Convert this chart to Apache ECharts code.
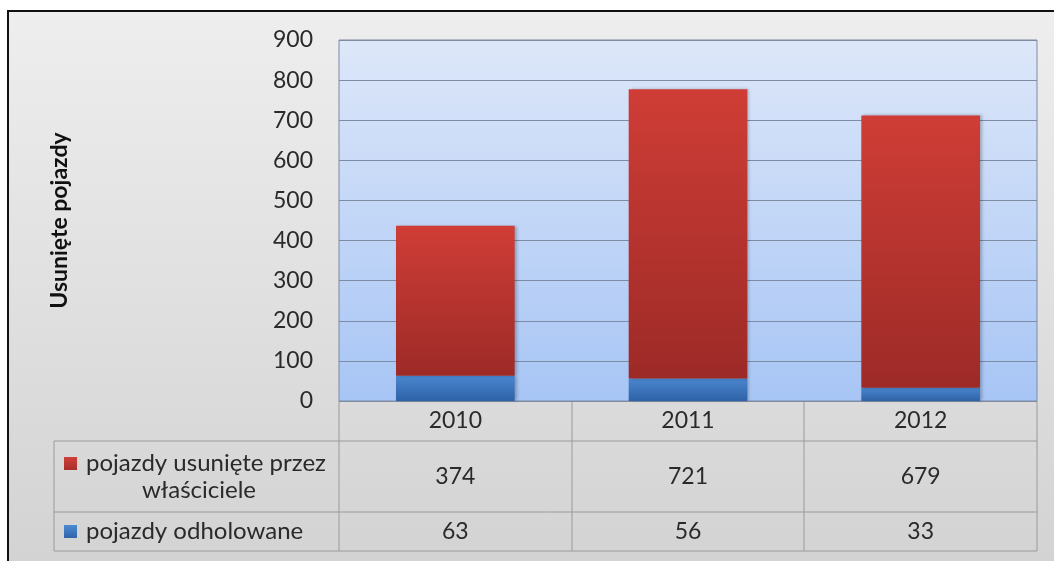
<!DOCTYPE html>
<html>
<head>
<meta charset="utf-8">
<script src="https://cdn.jsdelivr.net/npm/echarts@6/dist/echarts.min.js"></script>
<style>
  html, body { margin: 0; padding: 0; background: #fff; }
  #main { width: 1054px; height: 561px; }
</style>
</head>
<body>
<div id="main"></div>
<script>
// dane
var years = ['2010', '2011', '2012'];
var owners = [374, 721, 679];     // pojazdy usunięte przez właścicieli
var towed = [63, 56, 33];         // pojazdy odholowane
var yTicks = [0, 100, 200, 300, 400, 500, 600, 700, 800, 900];

var font = 'Lato, "Open Sans", sans-serif';
var fs = 23;

// grid layout
var gl = 339, gt = 40, gw = 698, gh = 361;
var tLeft = 54, row1 = 441, row2 = 512, tBottom = 551;
var colW = gw / years.length;

function grad(c1, c2) {
    return new echarts.graphic.LinearGradient(0, 0, 0, 1, [
        { offset: 0, color: c1 },
        { offset: 1, color: c2 }
    ]);
}

var chart = echarts.init(document.getElementById('main'));

// linie tabeli
var lines = [];
[row1, row2, tBottom].forEach(function (y) {
    lines.push({ type: 'line', shape: { x1: tLeft, y1: y, x2: gl + gw, y2: y } });
});
lines.push({ type: 'line', shape: { x1: tLeft, y1: row1, x2: tLeft, y2: tBottom } });
for (var i = 0; i <= years.length; i++) {
    var x = Math.round(gl + colW * i);
    lines.push({ type: 'line', shape: { x1: x, y1: gt + gh, x2: x, y2: tBottom } });
}
lines.forEach(function (l) {
    l.style = { stroke: '#9a9a9a', lineWidth: 1 };
    l.silent = true;
});

var graphics = [
    // tło
    {
        type: 'rect', z: -10, silent: true,
        shape: { x: 8, y: 11, width: 1060, height: 570 },
        style: { fill: grad('#eeeeee', '#d2d2d2'), stroke: '#111', lineWidth: 2 }
    }
].concat(lines).concat([
    // legenda w tabeli
    { type: 'rect', shape: { x: 64, y: 457, width: 13, height: 13 }, style: { fill: grad('#d0403a', '#a82e2b') } },
    {
        type: 'text', x: 86, y: 463,
        style: { text: 'pojazdy usunięte przez', font: '24px ' + font, fill: '#2a2a2a', align: 'left', verticalAlign: 'middle' }
    },
    {
        type: 'text', x: 199, y: 490,
        style: { text: 'właściciele', font: '24px ' + font, fill: '#2a2a2a', align: 'center', verticalAlign: 'middle' }
    },
    { type: 'rect', shape: { x: 64, y: 525, width: 13, height: 13 }, style: { fill: grad('#4d8ad3', '#2f64a8') } },
    {
        type: 'text', x: 86, y: 531,
        style: { text: 'pojazdy odholowane', font: '24px ' + font, fill: '#2a2a2a', align: 'left', verticalAlign: 'middle' }
    }
]);

function rowAxis(vals, offset) {
    return {
        type: 'category',
        data: vals.map(String),
        position: 'bottom',
        offset: offset,
        axisLine: { show: false },
        axisTick: { show: false },
        axisLabel: { fontSize: fs, fontFamily: font, color: '#2a2a2a', margin: 0, verticalAlign: 'middle' }
    };
}

var option = {
    animation: false,
    backgroundColor: '#ffffff',
    textStyle: { fontFamily: font },
    graphic: graphics,
    grid: {
        left: gl, top: gt, width: gw, height: gh,
        show: true,
        backgroundColor: grad('#dde7f9', '#a7c5f5'),
        borderColor: '#7d8ba3',
        borderWidth: 1
    },
    xAxis: [
        {
            type: 'category',
            data: years,
            axisLine: { show: false },
            axisTick: { show: false },
            axisLabel: { fontSize: fs, fontFamily: font, color: '#2a2a2a', margin: 20, verticalAlign: 'middle' }
        },
        rowAxis(owners, 76),
        rowAxis(towed, 131)
    ],
    yAxis: {
        type: 'value',
        min: yTicks[0],
        max: yTicks[yTicks.length - 1],
        interval: 100,
        name: 'Usunięte pojazdy',
        nameLocation: 'middle',
        nameRotate: 90,
        nameGap: 268,
        nameTextStyle: { fontSize: 23, fontWeight: 'bold', color: '#111', fontFamily: font },
        axisLine: { show: false },
        axisTick: { show: false },
        axisLabel: { fontSize: fs, fontFamily: font, color: '#2a2a2a', margin: 26 },
        splitLine: { lineStyle: { color: '#7d8ba3', width: 1 } }
    },
    series: [
        {
            name: 'pojazdy odholowane',
            type: 'bar',
            stack: 'all',
            data: towed,
            barWidth: '51%',
            itemStyle: {
                color: grad('#4a86cf', '#2e62a6'),
                shadowColor: 'rgba(0,0,0,0.25)', shadowBlur: 3, shadowOffsetX: 2
            }
        },
        {
            name: 'pojazdy usunięte przez właścicieli',
            type: 'bar',
            stack: 'all',
            data: owners,
            barWidth: '51%',
            itemStyle: {
                color: grad('#cf3d36', '#9d2a27'),
                shadowColor: 'rgba(0,0,0,0.25)', shadowBlur: 3, shadowOffsetX: 2
            }
        }
    ]
};

chart.setOption(option);
</script>
</body>
</html>
